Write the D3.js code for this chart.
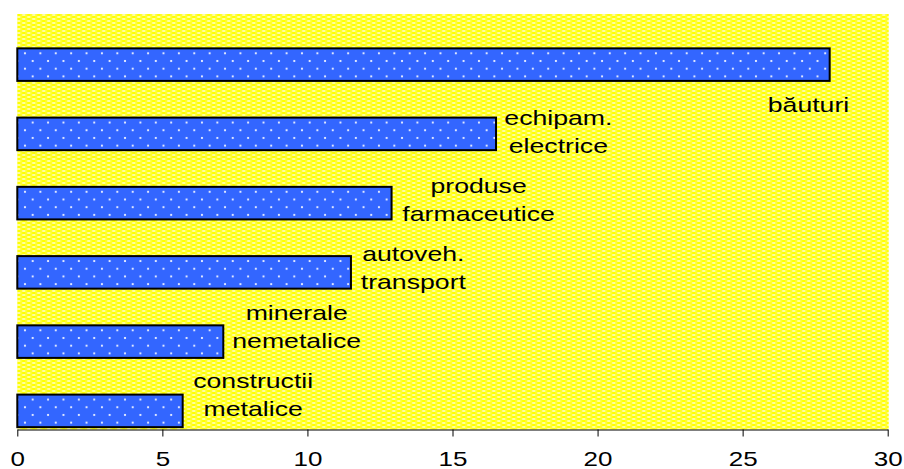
<!DOCTYPE html>
<html>
<head>
<meta charset="utf-8">
<script src="https://cdn.jsdelivr.net/npm/d3@7"></script>
<style>
  html, body { margin: 0; padding: 0; background: #ffffff; }
  svg { display: block; }
</style>
</head>
<body>
<svg id="chart" width="904" height="469"></svg>
<script>
// ---- data ----
const categories = ["băuturi", "echipam. electrice", "produse farmaceutice", "autoveh. transport", "minerale nemetalice", "constructii metalice"];
const values = [28, 16.5, 12.9, 11.5, 7.1, 5.7];
const labelLines = [["", "băuturi"], ["echipam.", "electrice"], ["produse", "farmaceutice"], ["autoveh.", "transport"], ["minerale", "nemetalice"], ["constructii", "metalice"]];
const xTicks = [0, 5, 10, 15, 20, 25, 30];

// ---- layout (annotation placement, in axis units / band fractions) ----
const labelCenterX = [27.27, 18.65, 15.9, 13.65, 9.63, 8.13];
const labelFirstLine = [1.01, 0.6, 0.585, 0.57, 0.42, 0.40];

(function () {
const svg = d3.select("#chart");
const mLeft = 17.3, mRight = 887.7, mTop = 14, mBottom = 429.5;

const x = d3.scaleLinear().domain([0, 30]).range([mLeft, mRight]);
const y = d3.scaleBand().domain(categories).range([mTop, mBottom]).padding(0);
const bw = y.bandwidth();

const defs = svg.append("defs");
// background pattern
const bgp = defs.append("pattern").attr("id", "bgpat").attr("patternUnits", "userSpaceOnUse")
  .attr("width", 10).attr("height", 4).attr("x", mLeft).attr("y", mTop);
bgp.append("rect").attr("width", 10).attr("height", 4).attr("fill", "#ffff9c");
bgp.append("rect").attr("x", 0).attr("y", 0).attr("width", 3).attr("height", 2).attr("fill", "#ffff00");
bgp.append("rect").attr("x", 5).attr("y", 2).attr("width", 3).attr("height", 2).attr("fill", "#ffff00");
bgp.append("rect").attr("x", 3).attr("y", 0).attr("width", 2).attr("height", 4).attr("fill", "#ffff30");
bgp.append("rect").attr("x", 8).attr("y", 0).attr("width", 2).attr("height", 4).attr("fill", "#ffff30");

// bar pattern
const step = bw / 9;
const bp = defs.append("pattern").attr("id", "barpat").attr("patternUnits", "userSpaceOnUse")
  .attr("width", step * 2).attr("height", step * 2).attr("x", 9.6).attr("y", 37.9);
bp.append("rect").attr("width", step * 2).attr("height", step * 2).attr("fill", "#3366ff");
[[0, 0], [step, step], [step * 2, 0], [0, step * 2], [step * 2, step * 2]].forEach(([cx, cy]) => {
  bp.append("rect").attr("x", cx - 1).attr("y", cy - 1).attr("width", 2).attr("height", 2).attr("fill", "#dde6ff");
});

// plot background
svg.append("rect").attr("x", mLeft).attr("y", mTop).attr("width", mRight - mLeft + 1).attr("height", mBottom - mTop)
  .attr("fill", "url(#bgpat)");

// bars
svg.append("g").selectAll("rect").data(categories).join("rect")
  .attr("x", x(0))
  .attr("y", d => y(d) + bw * 0.496)
  .attr("width", (d, i) => x(values[i]) - x(0))
  .attr("height", bw * 0.47)
  .attr("fill", "url(#barpat)")
  .attr("stroke", "#000")
  .attr("stroke-width", 2);

// labels
const font = "'Liberation Sans', Arial, sans-serif";
const sx = 1.3;
const lg = svg.append("g");
categories.forEach((c, i) => {
  labelLines[i].forEach((t, j) => {
    if (!t) return;
    const yy = y(c) + bw * labelFirstLine[i] + j * 28;
    lg.append("text")
      .attr("transform", `translate(${x(labelCenterX[i])},${yy}) scale(${sx},1)`)
      .attr("text-anchor", "middle")
      .attr("font-family", font)
      .attr("font-size", 20.5)
      .attr("fill", "#000")
      .text(t);
  });
});

// x axis
const axis = d3.axisBottom(x).tickValues(xTicks).tickSize(7).tickSizeOuter(0).tickFormat(d3.format("d"));
const ag = svg.append("g").attr("transform", `translate(0,${mBottom})`).call(axis);
ag.select(".domain").attr("stroke", "#000").attr("stroke-width", 1);
ag.selectAll(".tick line").attr("stroke", "#000");
ag.selectAll(".tick text").each(function () {
  const t = d3.select(this);
  t.attr("y", null).attr("dy", null)
   .attr("transform", `translate(0,36.5) scale(${sx},1)`)
   .attr("font-family", font).attr("font-size", 20).attr("fill", "#000");
});
})();
</script>
</body>
</html>
